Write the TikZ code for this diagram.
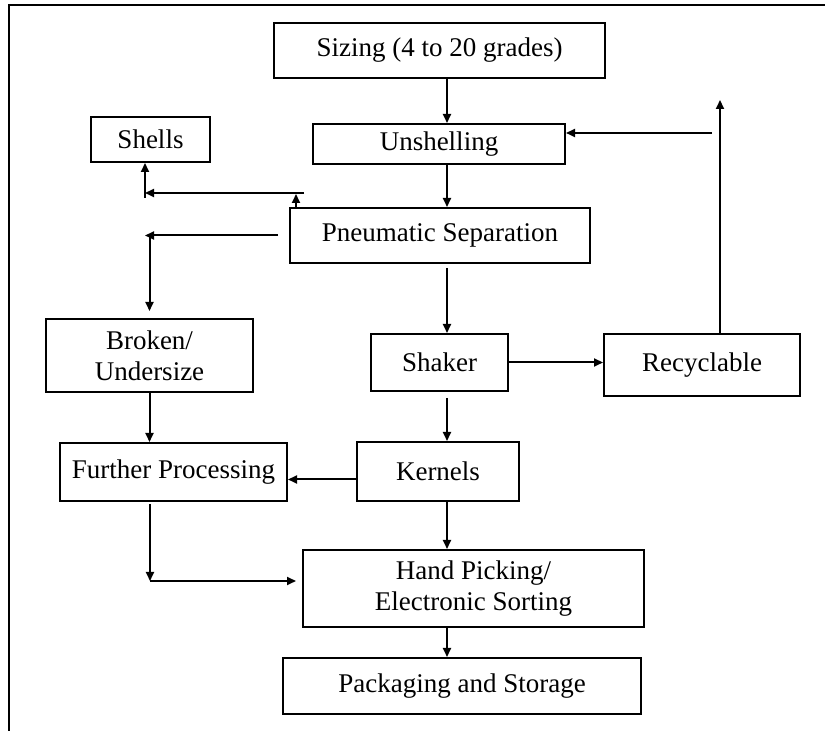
\documentclass[tikz,border=0pt]{standalone}
\usepackage{fontspec}
\setmainfont{Liberation Serif}
\usetikzlibrary{arrows.meta}

\begin{document}
\begin{tikzpicture}[
        x=0.5pt, y=-0.5pt,
        box/.style={draw, line width=1pt, align=center, inner sep=0pt,
                    font=\fontsize{13.5}{15.5}\selectfont},
        flow/.style={-{Triangle[length=4.5pt,width=4pt]}, line width=1pt},
        frame/.style={line width=1pt}]

    \useasboundingbox (0,0) rectangle (825,731);

    % --- Marco (abierto por la derecha y por abajo)
    \draw[frame] (825,5) -- (9,5) -- (9,731);

    % --- Cajas
    \node[box, minimum width=165.5pt, minimum height=27.5pt] (sizing)  at (439.5,50.5)  {Sizing (4 to 20 grades)};
    \node[box, minimum width=126pt,   minimum height=20pt]   (unshell) at (439,144)     {Unshelling};
    \node[box, minimum width=59.5pt,  minimum height=22.5pt] (shells)  at (150.5,139.5) {Shells};
    \node[box, minimum width=150pt,   minimum height=27.5pt] (pneu)    at (440,235.5)   {Pneumatic Separation};
    \node[box, minimum width=103.5pt, minimum height=36.5pt] (broken)  at (149.5,355.5) {Broken/\\Undersize};
    \node[box, minimum width=68.5pt,  minimum height=28.5pt] (shaker)  at (439.5,362.5) {Shaker};
    \node[box, minimum width=98pt,    minimum height=31pt]   (recyc)   at (702,365)     {Recyclable};
    \node[box, minimum width=113.5pt, minimum height=29pt]   (further) at (173.5,472)   {Further Processing};
    \node[box, minimum width=81pt,    minimum height=29.5pt] (kernels) at (438,471.5)   {Kernels};
    \node[box, minimum width=170.5pt, minimum height=38.5pt] (hand)    at (473.5,588.5) {Hand Picking/\\Electronic Sorting};
    \node[box, minimum width=179pt,   minimum height=28pt]   (pack)    at (462,686)     {Packaging and Storage};

    % --- Puntos de apoyo
    \coordinate (col)  at (447,0);
    \coordinate (rtop) at (720,100);
    \coordinate (rbend) at (712,133);
    \coordinate (sh)   at (145,193);
    \coordinate (shr)  at (304,193);
    \coordinate (pb)   at (145,235);
    \coordinate (fh)   at (150,581);

    % --- Línea principal
    \draw[flow] (sizing.south -| col) -- (unshell.north -| col);
    \draw[flow] (unshell.south -| col) -- (pneu.north -| col);
    \draw[flow, shorten <=2pt] (pneu.south -| col) -- (shaker.north -| col);
    \draw[flow, shorten <=3pt] (shaker.south -| col) -- (kernels.north -| col);
    \draw[flow] (kernels.south -| col) -- (hand.north -| col);
    \draw[flow] (hand.south -| col) -- (pack.north -| col);

    % --- Reciclado
    \draw[flow] (shaker.east) -- (shaker.east -| recyc.west);
    \draw[flow] (recyc.north -| rtop) -- (rtop);
    \draw[flow] (rbend) -- (rbend -| unshell.east);

    % --- Cáscaras
    \draw[flow] ([xshift=3.5pt]pneu.north west) -- ++(0,-13);
    \draw[flow] (shr) -- (sh);
    \draw[flow] ([yshift=-2.5pt]sh) -- (sh |- shells.south);

    % --- Rotos / reproceso
    \draw[flow, shorten <=5.5pt] (pneu.west) -- (pneu.west -| pb);
    \draw[flow, shorten >=3.5pt] (pb -| broken) -- (broken.north);
    \draw[flow] (broken.south) -- (broken.south |- further.north);
    \draw[flow] ([yshift=-4pt]kernels.west) -- ([yshift=-4pt]kernels.west -| further.east);
    \draw[flow, shorten <=1pt] (further.south -| fh) -- (fh);
    \draw[flow, shorten >=3pt] (fh) -- (fh -| hand.west);

\end{tikzpicture}
\end{document}
